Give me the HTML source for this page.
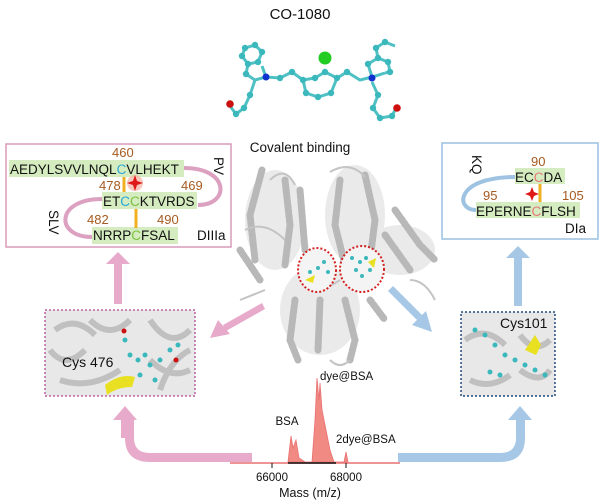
<!DOCTYPE html>
<html><head><meta charset="utf-8"><style>
html,body{margin:0;padding:0;background:#fff;}
svg{display:block;font-family:"Liberation Sans",sans-serif;}
</style></head><body>
<svg width="600" height="503" viewBox="0 0 600 503" xmlns="http://www.w3.org/2000/svg">
<rect width="600" height="503" fill="#fff"/>
<text x="300" y="19" font-size="15" text-anchor="middle" fill="#111">CO-1080</text>
<!-- molecule -->
<g stroke="#4fc1c4" stroke-width="3" fill="none">
<polyline points="245,48 255,45 262,52 258,62 248,64 242,56 245,48"/>
<polyline points="248,64 246,74 255,80 266,77 262,66"/>
<polyline points="266,77 280,78 292,72 303,80 315,78 325,72 337,78 347,72 360,80 372,77 385,73"/>
<polyline points="303,80 306,93 318,97 331,93 337,78"/>
<polyline points="255,80 250,95 244,108 236,114 230,106"/>
<polyline points="372,77 368,64 378,58 388,62 390,72 385,73"/>
<polyline points="378,58 376,48 385,42 395,46"/>
<polyline points="372,82 378,95 373,108 380,118 392,116 395,110"/>
</g>
<g fill="#3bb8bc">
<circle cx="245" cy="48" r="3.2"/><circle cx="255" cy="45" r="3.2"/><circle cx="262" cy="52" r="3.2"/><circle cx="258" cy="62" r="3.2"/><circle cx="248" cy="64" r="3.2"/><circle cx="242" cy="56" r="3.2"/><circle cx="246" cy="74" r="3.2"/><circle cx="280" cy="78" r="3.2"/><circle cx="292" cy="72" r="3.2"/><circle cx="303" cy="80" r="3.2"/><circle cx="315" cy="78" r="3.2"/><circle cx="325" cy="72" r="3.2"/><circle cx="337" cy="78" r="3.2"/><circle cx="347" cy="72" r="3.2"/><circle cx="306" cy="93" r="3.2"/><circle cx="318" cy="97" r="3.2"/><circle cx="331" cy="93" r="3.2"/><circle cx="250" cy="95" r="3.2"/><circle cx="244" cy="108" r="3.2"/><circle cx="236" cy="114" r="3.2"/><circle cx="368" cy="64" r="3.2"/><circle cx="378" cy="58" r="3.2"/><circle cx="388" cy="62" r="3.2"/><circle cx="390" cy="72" r="3.2"/><circle cx="376" cy="48" r="3.2"/><circle cx="385" cy="42" r="3.2"/><circle cx="378" cy="95" r="3.2"/><circle cx="373" cy="108" r="3.2"/><circle cx="380" cy="118" r="3.2"/><circle cx="392" cy="116" r="3.2"/>
</g>
<circle cx="266" cy="77" r="3.5" fill="#1030d0"/><circle cx="372" cy="78" r="3.5" fill="#1030d0"/>
<circle cx="325" cy="58" r="6.5" fill="#22cc22"/>
<circle cx="230" cy="104" r="3.8" fill="#cc1010"/><circle cx="397" cy="108" r="3.8" fill="#cc1010"/>
<text x="300" y="152" font-size="13.5" text-anchor="middle" fill="#111">Covalent binding</text>

<!-- protein -->
<g fill="#e6e6e6" opacity="0.8">
<ellipse cx="275" cy="220" rx="30" ry="50"/><ellipse cx="355" cy="215" rx="30" ry="50"/><ellipse cx="400" cy="250" rx="35" ry="25"/><ellipse cx="320" cy="310" rx="40" ry="45"/>
</g>
<g stroke="#b8b8b8" stroke-width="7" fill="none" stroke-dasharray="3,2" stroke-linecap="round">
<path d="M262,170 L250,215 L255,260"/><path d="M285,180 L290,225 L285,265"/><path d="M300,190 L305,250"/>
<path d="M340,180 L335,225 L345,265"/><path d="M365,175 L375,220 L370,260"/><path d="M395,210 L420,245 L435,260"/>
<path d="M385,235 L410,270"/><path d="M295,300 L290,340 L298,360"/><path d="M320,300 L318,350"/><path d="M345,300 L355,340 L350,360"/><path d="M370,300 L385,320"/>
<path d="M240,250 L260,280"/>
</g>
<g stroke="#c4c4c4" stroke-width="2" fill="none">
<path d="M245,230 q20,-10 40,10 M270,180 q15,-15 25,5 M330,172 q20,-12 35,5 M300,280 q20,15 40,0 M240,300 l25,-10 M410,280 q15,0 25,20 M330,360 q10,10 20,0"/>
</g>
<ellipse cx="317" cy="270" rx="19" ry="22" fill="#f4f4f4" stroke="#d42020" stroke-width="2" stroke-dasharray="2,2"/>
<ellipse cx="362" cy="269" rx="22" ry="23" fill="#f4f4f4" stroke="#d42020" stroke-width="2" stroke-dasharray="2,2"/>
<g fill="#3bb8bc"><circle cx="318" cy="268" r="2"/><circle cx="324" cy="262" r="2"/><circle cx="310" cy="272" r="2"/><circle cx="328" cy="272" r="2"/><circle cx="360" cy="262" r="2"/><circle cx="356" cy="270" r="2"/><circle cx="366" cy="258" r="2"/><circle cx="352" cy="258" r="2"/><circle cx="362" cy="276" r="2"/><circle cx="370" cy="270" r="2"/></g>
<path d="M305,280 l10,-5 l-2,8z" fill="#e8e020"/><path d="M368,262 l8,-4 l-2,10z" fill="#e8e020"/>

<!-- left top box -->
<rect x="6" y="144" width="225" height="103" fill="#fff" stroke="#d89ab8" stroke-width="1.5"/>
<rect x="9" y="160" width="175" height="17" fill="#d5ecc0"/>
<rect x="102" y="192" width="95" height="17" fill="#d5ecc0"/>
<rect x="92" y="227" width="86" height="17" fill="#d5ecc0"/>
<path d="M184,168 C230,168 230,205 198,205" fill="none" stroke="#dca0c0" stroke-width="4"/>
<path d="M102,199 C55,199 55,237 92,237" fill="none" stroke="#dca0c0" stroke-width="4"/>
<line x1="124" y1="177" x2="124" y2="192" stroke="#f0b020" stroke-width="3"/>
<line x1="136" y1="209" x2="136" y2="228" stroke="#f0b020" stroke-width="3"/>
<circle cx="135" cy="183" r="8" fill="#f7b0a0" opacity="0.7"/>
<path d="M135,175 l2,6 l6,2 l-6,2 l-2,6 l-2,-6 l-6,-2 l6,-2z" fill="#e01818"/>
<g font-size="13" fill="#a65a20"><text x="112" y="157">460</text><text x="99" y="190">478</text><text x="181" y="190">469</text><text x="87" y="224">482</text><text x="157" y="224">490</text></g>
<g font-size="13.5" fill="#111">
<text x="10" y="174">AEDYLSVVLNQL<tspan fill="#2aa8d8">C</tspan>VLHEKT</text>
<text x="103" y="206">ET<tspan fill="#2aa8d8">C</tspan><tspan fill="#7cc040">C</tspan>KTVRDS</text>
<text x="93" y="240">NRRP<tspan fill="#7cc040">C</tspan>FSAL</text>
<text x="197" y="240">DIIIa</text>
<text transform="translate(214,157) rotate(90)">PV</text>
<text transform="translate(49,210) rotate(90)">SLV</text>
</g>

<!-- right top box -->
<rect x="442" y="143" width="156" height="96" fill="#fff" stroke="#9ac0e0" stroke-width="1.5"/>
<rect x="515" y="168" width="50" height="16" fill="#d5ecc0"/>
<rect x="476" y="202" width="104" height="16" fill="#d5ecc0"/>
<path d="M515,177 C455,177 455,210 476,210" fill="none" stroke="#9ec2e2" stroke-width="4"/>
<line x1="540" y1="184" x2="540" y2="202" stroke="#f0b020" stroke-width="3"/>
<path d="M532,187 l2,5 l5,2 l-5,2 l-2,5 l-2,-5 l-5,-2 l5,-2z" fill="#e01818"/>
<g font-size="13" fill="#a65a20"><text x="531" y="166">90</text><text x="483" y="200">95</text><text x="562" y="200">105</text></g>
<g font-size="13.5" fill="#111">
<text x="515" y="182">EC<tspan fill="#e87878">C</tspan>DA</text>
<text x="476" y="216">EPERNE<tspan fill="#e87878">C</tspan>FLSH</text>
<text x="565" y="233">DIa</text>
<text transform="translate(472,155) rotate(90)">KQ</text>
</g>

<!-- bottom boxes -->
<rect x="45" y="310" width="150" height="86" fill="#e8e8e8" stroke="#c060a0" stroke-width="1.5" stroke-dasharray="2,2"/>
<g stroke="#c0c0c0" stroke-width="6" fill="none"><path d="M55,330 q20,-15 40,5 M90,320 q20,20 40,0 M150,320 q20,30 40,10 M60,380 q30,10 60,-10 M150,360 q20,20 40,10 M160,390 q10,-30 30,-40 M50,350 q15,20 35,0"/></g>
<g fill="#3bb8bc"><circle cx="130" cy="355" r="2.5"/><circle cx="138" cy="360" r="2.5"/><circle cx="145" cy="355" r="2.5"/><circle cx="150" cy="365" r="2.5"/><circle cx="160" cy="360" r="2.5"/><circle cx="170" cy="350" r="2.5"/><circle cx="178" cy="345" r="2.5"/><circle cx="125" cy="340" r="2.5"/><circle cx="140" cy="375" r="2.5"/><circle cx="155" cy="380" r="2.5"/><circle cx="120" cy="380" r="2.5"/></g>
<circle cx="124" cy="331" r="2.5" fill="#cc1010"/><circle cx="176" cy="360" r="2.5" fill="#cc1010"/>
<path d="M105,385 q15,-12 30,-8 l-3,10 q-15,0 -25,8z" fill="#e8e020"/>
<text x="62" y="367" font-size="14" fill="#111">Cys 476</text>

<rect x="461" y="312" width="94" height="84" fill="#e8e8e8" stroke="#204a80" stroke-width="1.5" stroke-dasharray="2,2"/>
<g stroke="#c0c0c0" stroke-width="6" fill="none"><path d="M465,340 q20,-15 40,5 M470,380 q20,10 40,-5 M520,370 q20,15 30,0 M520,335 q15,20 30,5"/></g>
<g fill="#3bb8bc"><circle cx="475" cy="330" r="2.5"/><circle cx="485" cy="335" r="2.5"/><circle cx="495" cy="345" r="2.5"/><circle cx="505" cy="355" r="2.5"/><circle cx="515" cy="360" r="2.5"/><circle cx="525" cy="365" r="2.5"/><circle cx="535" cy="370" r="2.5"/><circle cx="545" cy="375" r="2.5"/><circle cx="500" cy="375" r="2.5"/><circle cx="490" cy="372" r="2.5"/></g>
<path d="M525,350 l10,-15 l6,10 l-5,10z" fill="#e8e020"/>
<text x="500" y="328" font-size="14" fill="#111">Cys101</text>

<!-- arrows -->
<g fill="#e8aacb">
<rect x="114" y="262" width="8" height="42"/><polygon points="106,264 118,252 130,264"/>
<rect x="121" y="418" width="9" height="20"/><polygon points="113,420 125,406 137,420"/>
<path d="M252,462 L150,462 Q125,462 125,438 L125,420 L134,420 L134,438 Q134,453 150,453 L252,453z"/>
<polygon points="262,303 265,309 226,331 223,325"/><polygon points="210,338 218,320 230,334"/>
</g>
<g fill="#a6c8e6">
<rect x="514" y="256" width="8" height="50"/><polygon points="506,258 518,246 530,258"/>
<path d="M398,462 L500,462 Q525,462 525,438 L525,420 L516,420 L516,438 Q516,453 500,453 L398,453z"/>
<polygon points="508,420 520,406 532,420"/>
<polygon points="393,286 388,291 417,320 422,315"/><polygon points="432,332 412,325 426,311"/>
</g>

<!-- spectrum -->
<path d="M288,462 L291,436 L293,448 L296,440 L299,458 L305,462 L312,462 L315,420 L317,378 L319,400 L320,383 L322,410 L326,430 L330,450 L334,462 L344,462 L346,452 L348,462z" fill="#f28a84" stroke="#e87070" stroke-width="0.8"/>
<line x1="230" y1="463" x2="400" y2="463" stroke="#e87070" stroke-width="1.5"/>
<line x1="288" y1="463" x2="336" y2="463" stroke="#111" stroke-width="1.5"/>
<line x1="272" y1="463" x2="272" y2="468" stroke="#111"/><line x1="346" y1="463" x2="346" y2="468" stroke="#111"/>
<g font-size="11.5" fill="#111">
<text x="287" y="425" text-anchor="middle">BSA</text>
<text x="320" y="380">dye@BSA</text>
<text x="336" y="443">2dye@BSA</text>
<text x="272" y="481" text-anchor="middle">66000</text>
<text x="346" y="481" text-anchor="middle">68000</text>
<text x="310" y="497" text-anchor="middle" font-size="12.5">Mass (m/z)</text>
</g>
</svg>
</body></html>
